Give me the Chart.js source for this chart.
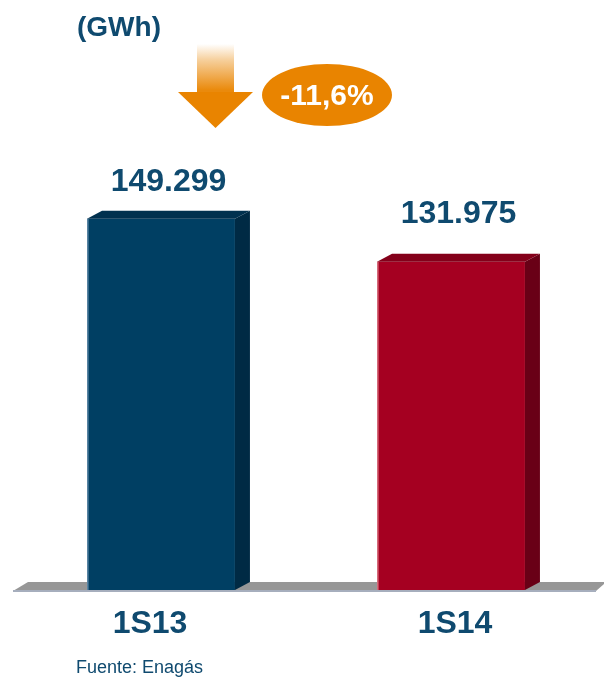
<!DOCTYPE html>
<html>
<head>
<meta charset="utf-8">
<script src="https://cdn.jsdelivr.net/npm/chart.js@4.4.1/dist/chart.umd.min.js"></script>
<style>
  html, body { margin: 0; padding: 0; background: #ffffff; }
  #wrap { width: 604px; height: 679px; position: relative; }
</style>
</head>
<body>
<div id="wrap"><canvas id="chart" width="604" height="679"></canvas></div>
<script>
// Data
const categories = ['1S13', '1S14'];
const values = [149299, 131975];
const unitLabel = '(GWh)';
const changeLabel = '-11,6%';
const sourceLabel = 'Fuente: Enagás';

// Styles
const FONT = '"Liberation Sans", Arial, sans-serif';
const TEXT_BLUE = '#0f4a6f';
const frontColors = ['#003f63', '#a50021'];
const topColors = ['#01314f', '#84001a'];
const sideColors = ['#002a44', '#690016'];
const edgeColors = ['#5d88a6', '#d9707f'];
const ORANGE = '#e98400';
const DEPTH_X = 15;
const DEPTH_Y = 8;

// thousands separator with a dot, as in the source
function formatValue(v) {
  return String(v).replace(/\B(?=(\d{3})+(?!\d))/g, '.');
}

// Floor, 3D faces, labels and the arrow badge
const decorPlugin = {
  id: 'decor',
  beforeDatasetsDraw(chart) {
    const ctx = chart.ctx;
    const area = chart.chartArea;
    const y0 = chart.scales.y.getPixelForValue(0);
    ctx.save();
    // floor slab
    ctx.fillStyle = '#979797';
    ctx.beginPath();
    ctx.moveTo(area.left - 3, y0 + 1);
    ctx.lineTo(area.left - 3 + DEPTH_X, y0 - DEPTH_Y);
    ctx.lineTo(chart.width, y0 - DEPTH_Y);
    ctx.lineTo(chart.width, y0 - 6);
    ctx.lineTo(chart.width - 8, y0 + 1);
    ctx.closePath();
    ctx.fill();
    ctx.fillStyle = '#a6aebd';
    ctx.fillRect(area.left - 3, y0, chart.width - 8 - (area.left - 3), 2);
    ctx.restore();
  },
  afterDatasetsDraw(chart, args, opts) {
    const ctx = chart.ctx;
    const meta = chart.getDatasetMeta(0);
    ctx.save();
    meta.data.forEach((bar, i) => {
      const left = bar.x - bar.width / 2;
      const right = bar.x + bar.width / 2;
      const top = bar.y;
      const bottom = bar.base;
      // side face
      ctx.fillStyle = sideColors[i];
      ctx.beginPath();
      ctx.moveTo(right, top);
      ctx.lineTo(right + DEPTH_X, top - DEPTH_Y);
      ctx.lineTo(right + DEPTH_X, bottom - DEPTH_Y);
      ctx.lineTo(right, bottom);
      ctx.closePath();
      ctx.fill();
      // top face
      ctx.fillStyle = topColors[i];
      ctx.beginPath();
      ctx.moveTo(left, top);
      ctx.lineTo(left + DEPTH_X, top - DEPTH_Y);
      ctx.lineTo(right + DEPTH_X, top - DEPTH_Y);
      ctx.lineTo(right, top);
      ctx.closePath();
      ctx.fill();
      // light left edge
      ctx.fillStyle = edgeColors[i];
      ctx.fillRect(left, top, 1.5, bottom - top);

      // value label above bar
      ctx.fillStyle = TEXT_BLUE;
      ctx.font = 'bold 32px ' + FONT;
      ctx.textAlign = 'center';
      ctx.textBaseline = 'middle';
      ctx.fillText(formatValue(values[i]), bar.x + DEPTH_X / 2, top - opts.valueOffset[i]);

      // category label under the floor
      ctx.fillText(categories[i], bar.x + opts.categoryShift[i], 624);
    });

    // unit label
    ctx.fillStyle = TEXT_BLUE;
    ctx.font = 'bold 28px ' + FONT;
    ctx.textAlign = 'left';
    ctx.textBaseline = 'middle';
    ctx.fillText(unitLabel, 77, 28);

    // source
    ctx.font = '18px ' + FONT;
    ctx.fillText(sourceLabel, 76, 668);

    // down arrow
    const grad = ctx.createLinearGradient(0, 44, 0, 90);
    grad.addColorStop(0, 'rgba(255,255,255,1)');
    grad.addColorStop(0.35, '#f6cf9b');
    grad.addColorStop(1, '#ea8a0c');
    ctx.fillStyle = grad;
    ctx.fillRect(197, 44, 37, 49);
    ctx.fillStyle = ORANGE;
    ctx.beginPath();
    ctx.moveTo(178, 92);
    ctx.lineTo(253, 92);
    ctx.lineTo(215.5, 128);
    ctx.closePath();
    ctx.fill();

    // change badge
    ctx.fillStyle = ORANGE;
    ctx.beginPath();
    ctx.ellipse(327, 95, 65, 31, 0, 0, Math.PI * 2);
    ctx.fill();
    ctx.fillStyle = '#ffffff';
    ctx.font = 'bold 30px ' + FONT;
    ctx.textAlign = 'center';
    ctx.fillText(changeLabel, 327, 97);
    ctx.restore();
  }
};

const chart = new Chart(document.getElementById('chart').getContext('2d'), {
  type: 'bar',
  data: {
    labels: categories,
    datasets: [{
      data: values,
      backgroundColor: frontColors,
      borderWidth: 0,
      barPercentage: 0.51,
      categoryPercentage: 1
    }]
  },
  options: {
    responsive: false,
    animation: false,
    layout: { padding: { top: 43, bottom: 89, left: 16, right: 8 } },
    scales: {
      x: { display: false },
      y: { display: false, min: 0, max: 220000 }
    },
    plugins: {
      legend: { display: false },
      tooltip: { enabled: false },
      decor: { valueOffset: [37, 48], categoryShift: [-11, 4] }
    }
  },
  plugins: [decorPlugin]
});
</script>
</body>
</html>
